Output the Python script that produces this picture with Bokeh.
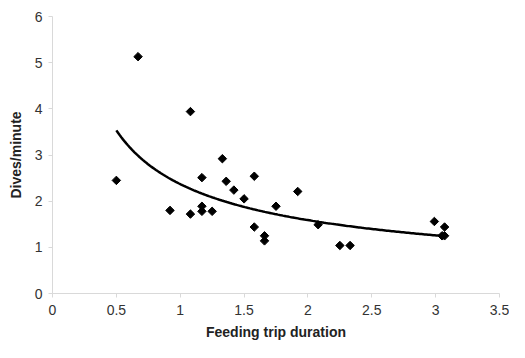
from bokeh.plotting import figure
from bokeh.models import Range1d, FixedTicker
from bokeh.embed import file_html
from bokeh.resources import INLINE
import numpy as np

# Data
trip_duration = [0.50, 0.67, 0.92, 1.08, 1.08, 1.17, 1.17, 1.17, 1.25, 1.33, 1.36,
                 1.42, 1.50, 1.58, 1.58, 1.66, 1.66, 1.75, 1.92, 2.08, 2.25, 2.33,
                 2.99, 3.05, 3.07, 3.07]
dives_per_min = [2.45, 5.13, 1.80, 1.72, 3.94, 1.89, 1.78, 2.51, 1.78, 2.92, 2.43,
                 2.24, 2.05, 1.44, 2.54, 1.25, 1.14, 1.89, 2.21, 1.49, 1.04, 1.04,
                 1.56, 1.25, 1.25, 1.44]

# Power trendline y = a * x^b (coefficients)
trend_a = 2.37
trend_b = -0.576
trend_x_min = 0.50
trend_x_max = 3.07

x_ticks = [0, 0.5, 1, 1.5, 2, 2.5, 3, 3.5]
y_ticks = [0, 1, 2, 3, 4, 5, 6]

p = figure(width=509, height=342, output_backend="svg", toolbar_location=None,
           x_range=Range1d(0, 3.5), y_range=Range1d(0, 6),
           min_border_left=52, min_border_right=10, min_border_top=16, min_border_bottom=44)
p.outline_line_color = None
p.xgrid.visible = False
p.ygrid.visible = False
p.background_fill_color = "white"
p.border_fill_color = "white"

tx = np.linspace(trend_x_min, trend_x_max, 200)
ty = trend_a * tx ** trend_b
p.line(tx, ty, line_color="black", line_width=2.5)

p.scatter(trip_duration, dives_per_min, marker="square", angle=np.pi / 4, size=6,
          fill_color="black", line_color="black")

for ax in (p.xaxis[0], p.yaxis[0]):
    ax.axis_line_color = "#d9d9d9"
    ax.major_tick_line_color = "#d9d9d9"
    ax.minor_tick_line_color = None
    ax.major_tick_in = 0
    ax.major_tick_out = 4
    ax.major_label_text_font = "Liberation Sans"
    ax.major_label_text_font_size = "14px"
    ax.major_label_text_color = "#333333"
    ax.axis_label_text_font = "Liberation Sans"
    ax.axis_label_text_font_size = "14px"
    ax.axis_label_text_font_style = "bold"
    ax.axis_label_text_color = "#222222"

p.xaxis.ticker = FixedTicker(ticks=x_ticks)
p.yaxis.ticker = FixedTicker(ticks=y_ticks)
p.xaxis.axis_label = "Feeding trip duration"
p.yaxis.axis_label = "Dives/minute"
p.xaxis.major_label_standoff = 7
p.yaxis.major_label_standoff = 6
p.xaxis.axis_label_standoff = 6
p.yaxis.axis_label_standoff = 8

open("out.html", "w").write(file_html(p, INLINE))
